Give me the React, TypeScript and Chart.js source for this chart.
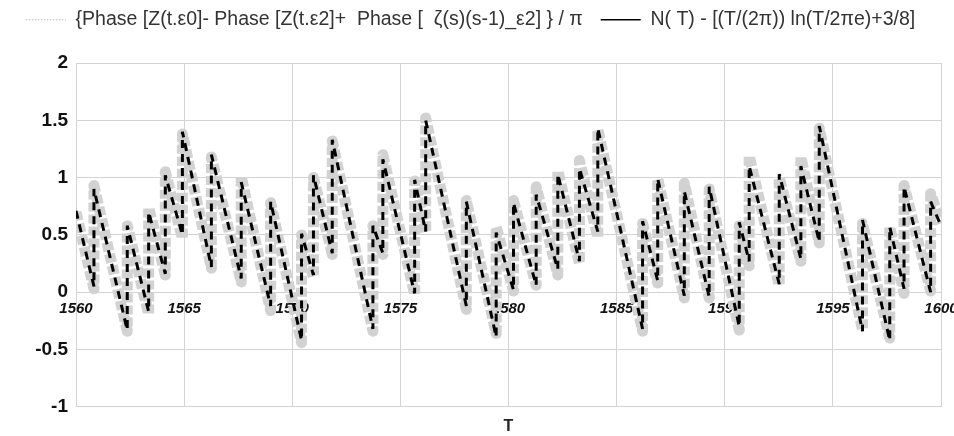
import React, { useEffect, useRef } from 'react';
import { Chart, registerables } from 'chart.js';

Chart.register(...registerables);

// T positions of the sawtooth corners (each zero listed twice: before / after the jump)
const sampleT: number[] = [
  1560.0,
  1560.83, 1560.83,
  1562.37, 1562.37,
  1563.36, 1563.36,
  1564.13, 1564.13,
  1564.92, 1564.92,
  1566.26, 1566.26,
  1567.64, 1567.64,
  1569.0, 1569.0,
  1570.43, 1570.43,
  1570.98, 1570.98,
  1571.85, 1571.85,
  1573.73, 1573.73,
  1574.19, 1574.19,
  1575.66, 1575.66,
  1576.17, 1576.17,
  1578.05, 1578.05,
  1579.43, 1579.43,
  1580.23, 1580.23,
  1581.28, 1581.28,
  1582.28, 1582.28,
  1583.28, 1583.28,
  1584.13, 1584.13,
  1586.2, 1586.2,
  1586.9, 1586.9,
  1588.13, 1588.13,
  1589.28, 1589.28,
  1590.67, 1590.67,
  1591.13, 1591.13,
  1592.52, 1592.52,
  1593.52, 1593.52,
  1594.37, 1594.37,
  1596.37, 1596.37,
  1597.63, 1597.63,
  1598.29, 1598.29,
  1599.52, 1599.52,
  1600.0,
];

// {Phase[Z(t.e0)] - Phase[Z(t.e2)] + Phase[zeta(s)(s-1)_e2]} / pi  (thick grey dashed)
const phaseValues: number[] = [
  0.7,
  0.03, 0.93,
  -0.34, 0.58,
  -0.19, 0.74,
  0.15, 1.05,
  0.47, 1.38,
  0.21, 1.18,
  0.09, 1.01,
  -0.16, 0.78,
  -0.44, 0.5,
  0.13, 1.0,
  0.33, 1.32,
  -0.34, 0.58,
  0.33, 1.2,
  -0.02, 0.97,
  0.52, 1.52,
  -0.15, 0.8,
  -0.36, 0.57,
  0.01, 0.8,
  0.06, 0.92,
  0.15, 1.06,
  0.25, 1.15,
  0.48, 1.42,
  -0.34, 0.6,
  0.08, 0.99,
  -0.05, 0.95,
  -0.05, 0.9,
  -0.33, 0.58,
  0.23, 1.19,
  0.06, 1.0,
  0.27, 1.18,
  0.43, 1.43,
  -0.33, 0.6,
  -0.4, 0.57,
  -0.01, 0.93,
  0.01, 0.86,
  0.6,
];

// N(T) - [(T/(2pi)) ln(T/2pi e) + 3/8]  (black dashed)
const countValues: number[] = [
  0.71,
  0.05, 0.9,
  -0.33, 0.58,
  -0.17, 0.7,
  0.16, 1.02,
  0.5, 1.4,
  0.22, 1.2,
  0.12, 0.96,
  -0.12, 0.79,
  -0.42, 0.51,
  0.15, 1.02,
  0.34, 1.33,
  -0.32, 0.58,
  0.34, 1.16,
  -0.01, 0.98,
  0.53, 1.5,
  -0.12, 0.79,
  -0.39, 0.52,
  0.02, 0.78,
  0.06, 0.85,
  0.2, 1.03,
  0.27, 1.08,
  0.53, 1.43,
  -0.32, 0.62,
  0.1, 0.99,
  -0.03, 0.88,
  -0.04, 0.92,
  -0.3, 0.61,
  0.27, 1.1,
  0.07, 1.03,
  0.29, 1.1,
  0.44, 1.45,
  -0.34, 0.63,
  -0.42, 0.57,
  0.03, 0.92,
  0.0, 0.79,
  0.58,
];

const seriesLabels: string[] = [
  '{Phase [Z(t.\u03b50]- Phase [Z(t.\u03b52]+  Phase [  \u03b6(s)(s-1)_\u03b52] } / \u03c0',
  'N( T) - [(T/(2\u03c0)) ln(T/2\u03c0e)+3/8]',
];

const xTicks: number[] = [1560, 1565, 1570, 1575, 1580, 1585, 1590, 1595, 1600];
const yTicks: number[] = [-1, -0.5, 0, 0.5, 1, 1.5, 2];
const xTitle = 'T';

const FONT = "'Liberation Sans', Arial, Helvetica, sans-serif";
const LEGEND_HEIGHT = 71;

const legendSpacer = {
  id: 'legendSpacer',
  beforeInit(chart: any) {
    const legend = chart.legend;
    if (!legend) return;
    const origFit = legend.fit;
    legend.fit = function () {
      origFit.call(this);
      this.height = LEGEND_HEIGHT;
    };
  },
};

export default function App() {
  const ref = useRef<HTMLCanvasElement | null>(null);

  useEffect(() => {
    if (!ref.current) return;
    const toPts = (vals: number[]) => sampleT.map((t, i) => ({ x: t, y: vals[i] }));
    const gridColor = '#d3d3d3';

    const chart = new Chart(ref.current, {
      type: 'line',
      data: {
        datasets: [
          {
            label: seriesLabels[0],
            data: toPts(phaseValues),
            borderColor: '#d2d2d2',
            backgroundColor: '#d2d2d2',
            borderWidth: 11,
            borderDash: [9, 3],
            borderCapStyle: 'butt',
            borderJoinStyle: 'round',
            pointRadius: 0,
            tension: 0,
            fill: false,
            order: 1,
          },
          {
            label: seriesLabels[1],
            data: toPts(countValues),
            borderColor: '#000000',
            backgroundColor: '#000000',
            borderWidth: 3,
            borderDash: [8, 6],
            borderJoinStyle: 'bevel',
            pointRadius: 0,
            tension: 0,
            fill: false,
            order: 0,
          },
        ],
      },
      options: {
        animation: false,
        responsive: true,
        maintainAspectRatio: false,
        layout: { padding: { top: -8, right: 13, left: 0, bottom: 0 } },
        plugins: {
          tooltip: { enabled: false },
          legend: {
            position: 'top',
            align: 'center',
            labels: {
              usePointStyle: true,
              pointStyleWidth: 40,
              padding: 18,
              color: '#333333',
              font: { family: FONT, size: 19.5 },
              generateLabels: (c: any) =>
                c.data.datasets.map((ds: any, i: number) => ({
                  text: ds.label,
                  pointStyle: 'line',
                  strokeStyle: i === 0 ? '#b8b8b8' : '#000000',
                  fillStyle: 'rgba(0,0,0,0)',
                  lineWidth: i === 0 ? 1 : 1.5,
                  lineDash: i === 0 ? [1.5, 1.5] : [],
                  fontColor: '#333333',
                  hidden: false,
                  datasetIndex: i,
                })),
            },
          },
        },
        scales: {
          x: {
            type: 'linear',
            min: xTicks[0],
            max: xTicks[xTicks.length - 1],
            afterBuildTicks: (s: any) => {
              s.ticks = xTicks.map((v) => ({ value: v }));
            },
            ticks: { display: false },
            grid: { color: gridColor, drawTicks: false, lineWidth: 1 },
            border: { display: false },
            title: {
              display: true,
              text: xTitle,
              color: '#222222',
              font: { family: FONT, size: 16, weight: 'bold' },
              padding: { top: 10, bottom: 0 },
            },
          },
          x2: {
            type: 'linear',
            axis: 'x',
            position: { y: 0 },
            min: xTicks[0],
            max: xTicks[xTicks.length - 1],
            afterBuildTicks: (s: any) => {
              s.ticks = xTicks.map((v) => ({ value: v }));
            },
            afterFit: (s: any) => {
              s.paddingLeft = 0;
              s.paddingRight = 0;
            },
            ticks: {
              autoSkip: false,
              maxRotation: 0,
              padding: 8,
              color: '#111111',
              font: { family: FONT, size: 15, weight: 'bold', style: 'italic' },
              callback: (v: any) => String(v),
            },
            grid: { display: false, drawTicks: false },
            border: { display: false },
          },
          y: {
            type: 'linear',
            min: yTicks[0],
            max: yTicks[yTicks.length - 1],
            afterBuildTicks: (s: any) => {
              s.ticks = yTicks.map((v) => ({ value: v }));
            },
            afterFit: (s: any) => {
              s.width = 76;
            },
            ticks: {
              padding: 8,
              color: '#111111',
              font: { family: FONT, size: 19, weight: 'bold' },
              callback: (v: any) => String(v),
            },
            grid: { color: gridColor, drawTicks: false, lineWidth: 1 },
            border: { display: false },
          },
        },
      } as any,
      plugins: [legendSpacer],
    });

    return () => chart.destroy();
  }, []);

  return (
    <div style={{ position: 'fixed', left: 0, top: 0, width: 954, height: 436, background: '#ffffff' }}>
      <canvas ref={ref} />
    </div>
  );
}
